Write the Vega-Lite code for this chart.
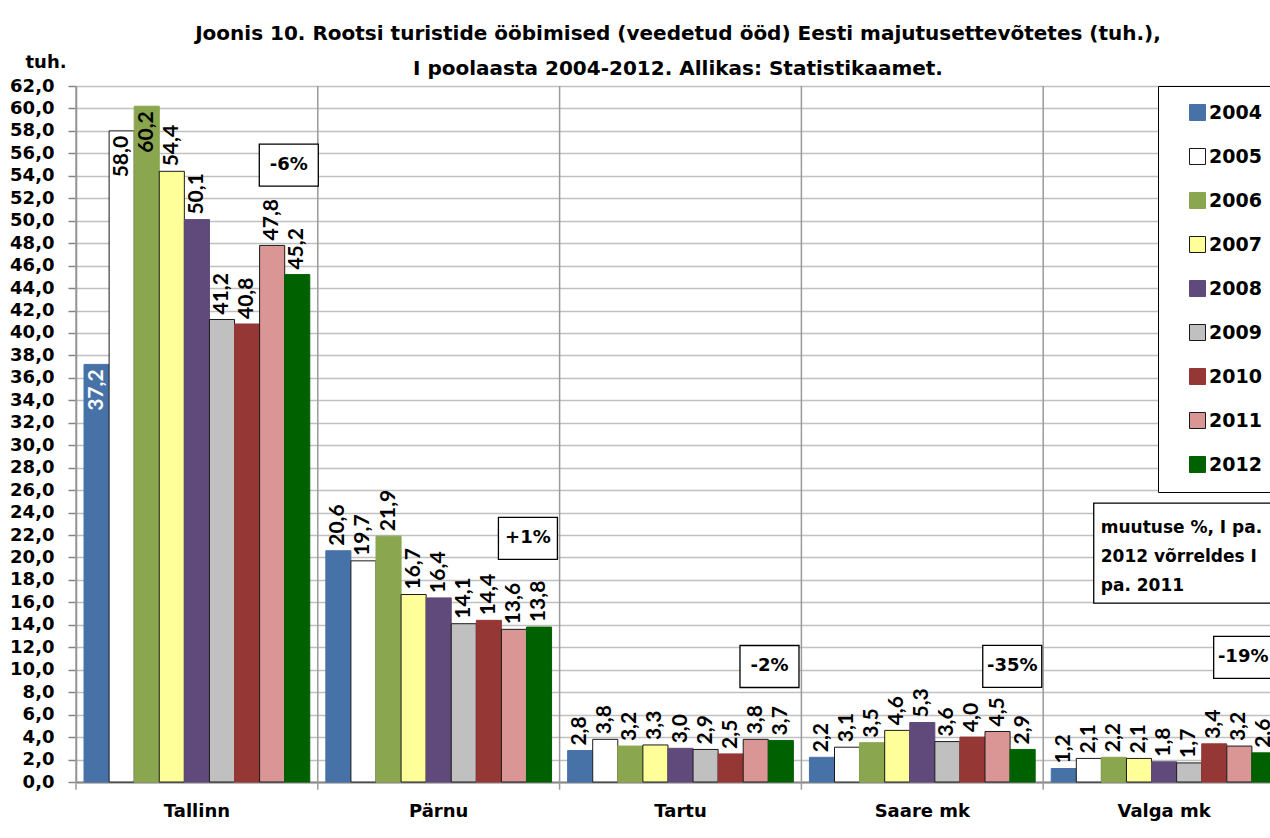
{
  "$schema": "https://vega.github.io/schema/vega-lite/v6.json",
  "width": 1194,
  "height": 696,
  "autosize": {"type": "none"},
  "padding": {"left": 76, "top": 86, "right": 0, "bottom": 56},
  "background": "white",
  "title": {
    "text": ["Joonis 10. Rootsi turistide ööbimised (veedetud ööd) Eesti majutusettevõtetes (tuh.),", "I poolaasta 2004-2012. Allikas: Statistikaamet."],
    "font": "DejaVu Sans", "fontSize": 20, "fontWeight": "bold", "color": "black",
    "anchor": "middle", "frame": "group", "baseline": "alphabetic", "lineHeight": 35, "offset": -42, "dx": 5
  },
  "config": {
    "locale": {"number": {"decimal": ",", "thousands": " ", "grouping": [3], "currency": ["", " €"]}},
    "view": {"stroke": null},
    "axis": {"labelOverlap": false},
    "axisX": {"labelFont": "DejaVu Sans", "labelFontSize": 18, "labelFontWeight": "bold", "labelColor": "black", "labelAngle": 0, "labelPadding": 20, "ticks": false, "grid": false, "domainColor": "#868686", "domainWidth": 2},
    "axisY": {"labelFont": "DejaVu Sans", "labelFontSize": 18, "labelFontWeight": "bold", "labelColor": "black", "labelPadding": 14, "labelOverlap": false, "tickSize": 8, "tickColor": "#868686", "tickWidth": 1.5, "domainColor": "#868686", "domainWidth": 1.5, "grid": true, "gridColor": "#c0c0c0", "gridWidth": 1.5, "titleFont": "DejaVu Sans", "titleFontSize": 18, "titleFontWeight": "bold", "titleColor": "black", "titleAngle": 0, "titleAlign": "left", "titleBaseline": "alphabetic", "titleX": -51, "titleY": -19}
  },
  "datasets": {
    "tur": [
      {"cat": "Tallinn", "year": "2004", "v": 37.2}, {"cat": "Tallinn", "year": "2005", "v": 58.0}, {"cat": "Tallinn", "year": "2006", "v": 60.2},
      {"cat": "Tallinn", "year": "2007", "v": 54.4}, {"cat": "Tallinn", "year": "2008", "v": 50.1}, {"cat": "Tallinn", "year": "2009", "v": 41.2},
      {"cat": "Tallinn", "year": "2010", "v": 40.8}, {"cat": "Tallinn", "year": "2011", "v": 47.8}, {"cat": "Tallinn", "year": "2012", "v": 45.2},
      {"cat": "Pärnu", "year": "2004", "v": 20.6}, {"cat": "Pärnu", "year": "2005", "v": 19.7}, {"cat": "Pärnu", "year": "2006", "v": 21.9},
      {"cat": "Pärnu", "year": "2007", "v": 16.7}, {"cat": "Pärnu", "year": "2008", "v": 16.4}, {"cat": "Pärnu", "year": "2009", "v": 14.1},
      {"cat": "Pärnu", "year": "2010", "v": 14.4}, {"cat": "Pärnu", "year": "2011", "v": 13.6}, {"cat": "Pärnu", "year": "2012", "v": 13.8},
      {"cat": "Tartu", "year": "2004", "v": 2.8}, {"cat": "Tartu", "year": "2005", "v": 3.8}, {"cat": "Tartu", "year": "2006", "v": 3.2},
      {"cat": "Tartu", "year": "2007", "v": 3.3}, {"cat": "Tartu", "year": "2008", "v": 3.0}, {"cat": "Tartu", "year": "2009", "v": 2.9},
      {"cat": "Tartu", "year": "2010", "v": 2.5}, {"cat": "Tartu", "year": "2011", "v": 3.8}, {"cat": "Tartu", "year": "2012", "v": 3.7},
      {"cat": "Saare mk", "year": "2004", "v": 2.2}, {"cat": "Saare mk", "year": "2005", "v": 3.1}, {"cat": "Saare mk", "year": "2006", "v": 3.5},
      {"cat": "Saare mk", "year": "2007", "v": 4.6}, {"cat": "Saare mk", "year": "2008", "v": 5.3}, {"cat": "Saare mk", "year": "2009", "v": 3.6},
      {"cat": "Saare mk", "year": "2010", "v": 4.0}, {"cat": "Saare mk", "year": "2011", "v": 4.5}, {"cat": "Saare mk", "year": "2012", "v": 2.9},
      {"cat": "Valga mk", "year": "2004", "v": 1.2}, {"cat": "Valga mk", "year": "2005", "v": 2.1}, {"cat": "Valga mk", "year": "2006", "v": 2.2},
      {"cat": "Valga mk", "year": "2007", "v": 2.1}, {"cat": "Valga mk", "year": "2008", "v": 1.8}, {"cat": "Valga mk", "year": "2009", "v": 1.7},
      {"cat": "Valga mk", "year": "2010", "v": 3.4}, {"cat": "Valga mk", "year": "2011", "v": 3.2}, {"cat": "Valga mk", "year": "2012", "v": 2.6}
    ],
    "cats": [{"cat": "Tallinn"}, {"cat": "Pärnu"}, {"cat": "Tartu"}, {"cat": "Saare mk"}, {"cat": "Valga mk"}]
  },
  "layer": [
    {
      "data": {"name": "tur"},
      "mark": {"type": "bar", "strokeWidth": 1},
      "encoding": {
        "x": {"field": "cat", "type": "nominal", "title": null, "scale": {"domain": ["Tallinn", "Pärnu", "Tartu", "Saare mk", "Valga mk"], "range": [0, 1209], "paddingInner": 0, "paddingOuter": 0}},
        "xOffset": {"field": "year", "type": "nominal", "scale": {"paddingInner": 0, "paddingOuter": 0.32}},
        "y": {"field": "v", "type": "quantitative", "title": "tuh.", "scale": {"domain": [0, 62], "nice": false}, "axis": {"values": [0, 2, 4, 6, 8, 10, 12, 14, 16, 18, 20, 22, 24, 26, 28, 30, 32, 34, 36, 38, 40, 42, 44, 46, 48, 50, 52, 54, 56, 58, 60, 62], "tickCount": 40, "format": ".1f", "labelOverlap": false, "labelBound": false}},
        "fill": {"field": "year", "type": "nominal",
          "scale": {"domain": ["2004", "2005", "2006", "2007", "2008", "2009", "2010", "2011", "2012"], "range": ["#4672A8", "#FFFFFF", "#8AA64E", "#FFFF99", "#604A7B", "#C0C0C0", "#953735", "#D99694", "#006100"]},
          "legend": {"title": null, "orient": "none", "legendX": 1082, "legendY": 0, "direction": "vertical", "strokeColor": "black", "fillColor": "white", "padding": 17, "symbolOffset": 13, "rowPadding": 23, "symbolType": "square", "symbolSize": 256, "symbolStrokeWidth": 1, "labelFont": "DejaVu Sans", "labelFontSize": 19, "labelFontWeight": "bold", "labelColor": "black", "labelOffset": 2}},
        "stroke": {"field": "year", "type": "nominal",
          "scale": {"domain": ["2004", "2005", "2006", "2007", "2008", "2009", "2010", "2011", "2012"], "range": ["#4672A8", "#1a1a1a", "#8AA64E", "#1a1a1a", "#604A7B", "#1a1a1a", "#953735", "#1a1a1a", "#006100"]},
          "legend": {"title": null, "orient": "none", "legendX": 1082, "legendY": 0, "direction": "vertical", "strokeColor": "black", "fillColor": "white", "padding": 17, "symbolOffset": 13, "rowPadding": 23, "symbolType": "square", "symbolSize": 256, "symbolStrokeWidth": 1, "labelFont": "DejaVu Sans", "labelFontSize": 19, "labelFontWeight": "bold", "labelColor": "black", "labelOffset": 2}}
      }
    },
    {
      "data": {"name": "cats"},
      "mark": {"type": "rule", "color": "#9a9a9a", "strokeWidth": 1.5},
      "encoding": {
        "x": {"field": "cat", "type": "nominal", "bandPosition": 0},
        "y": {"datum": -0.7},
        "y2": {"datum": 62}
      }
    },
    {
      "data": {"name": "tur"},
      "transform": [{"filter": "!(datum.cat == 'Tallinn' && (datum.year == '2004' || datum.year == '2005' || datum.year == '2006'))"}],
      "mark": {"type": "text", "angle": 270, "align": "left", "baseline": "middle", "dx": 5, "font": "Lato", "fontSize": 21, "fontWeight": "bold", "color": "black"},
      "encoding": {
        "x": {"field": "cat", "type": "nominal"},
        "xOffset": {"field": "year", "type": "nominal"},
        "y": {"field": "v", "type": "quantitative"},
        "text": {"field": "v", "type": "quantitative", "format": ".1f"}
      }
    },
    {
      "data": {"name": "tur"},
      "transform": [{"filter": "datum.cat == 'Tallinn' && (datum.year == '2004' || datum.year == '2005' || datum.year == '2006')"}],
      "mark": {"type": "text", "angle": 270, "align": "right", "baseline": "middle", "dx": -5, "font": "Lato", "fontSize": 21, "fontWeight": "bold"},
      "encoding": {
        "x": {"field": "cat", "type": "nominal"},
        "xOffset": {"field": "year", "type": "nominal"},
        "y": {"field": "v", "type": "quantitative"},
        "text": {"field": "v", "type": "quantitative", "format": ".1f"},
        "color": {"condition": {"test": "datum.year == '2004'", "value": "white"}, "value": "black"}
      }
    },
    {
      "data": {"values": [{"cat": "Tallinn", "pct": "-6%"}]},
      "encoding": {"x": {"field": "cat", "type": "nominal", "bandPosition": 0.88}, "y": {"datum": 54.96}},
      "layer": [
        {"mark": {"type": "point", "shape": "M-29.5,-21H29.5V21H-29.5Z", "size": 4, "filled": true, "fill": "white", "stroke": "black", "strokeWidth": 1.3, "opacity": 1}},
        {"mark": {"type": "text", "font": "DejaVu Sans", "fontSize": 18, "fontWeight": "bold", "color": "black"}, "encoding": {"text": {"field": "pct"}}}
      ]
    },
    {
      "data": {"values": [{"cat": "Pärnu", "pct": "+1%"}]},
      "encoding": {"x": {"field": "cat", "type": "nominal", "bandPosition": 0.869}, "y": {"datum": 21.7}},
      "layer": [
        {"mark": {"type": "point", "shape": "M-29.5,-21H29.5V21H-29.5Z", "size": 4, "filled": true, "fill": "white", "stroke": "black", "strokeWidth": 1.3, "opacity": 1}},
        {"mark": {"type": "text", "font": "DejaVu Sans", "fontSize": 18, "fontWeight": "bold", "color": "black"}, "encoding": {"text": {"field": "pct"}}}
      ]
    },
    {
      "data": {"values": [{"cat": "Tartu", "pct": "-2%"}]},
      "encoding": {"x": {"field": "cat", "type": "nominal", "bandPosition": 0.868}, "y": {"datum": 10.29}},
      "layer": [
        {"mark": {"type": "point", "shape": "M-29.5,-21H29.5V21H-29.5Z", "size": 4, "filled": true, "fill": "white", "stroke": "black", "strokeWidth": 1.3, "opacity": 1}},
        {"mark": {"type": "text", "font": "DejaVu Sans", "fontSize": 18, "fontWeight": "bold", "color": "black"}, "encoding": {"text": {"field": "pct"}}}
      ]
    },
    {
      "data": {"values": [{"cat": "Saare mk", "pct": "-35%"}]},
      "encoding": {"x": {"field": "cat", "type": "nominal", "bandPosition": 0.872}, "y": {"datum": 10.3}},
      "layer": [
        {"mark": {"type": "point", "shape": "M-29.5,-21H29.5V21H-29.5Z", "size": 4, "filled": true, "fill": "white", "stroke": "black", "strokeWidth": 1.3, "opacity": 1}},
        {"mark": {"type": "text", "font": "DejaVu Sans", "fontSize": 18, "fontWeight": "bold", "color": "black"}, "encoding": {"text": {"field": "pct"}}}
      ]
    },
    {
      "data": {"values": [{"cat": "Valga mk", "pct": "-19%"}]},
      "encoding": {"x": {"field": "cat", "type": "nominal", "bandPosition": 0.827}, "y": {"datum": 11.1}},
      "layer": [
        {"mark": {"type": "point", "shape": "M-29.5,-21H29.5V21H-29.5Z", "size": 4, "filled": true, "fill": "white", "stroke": "black", "strokeWidth": 1.3, "opacity": 1}},
        {"mark": {"type": "text", "font": "DejaVu Sans", "fontSize": 18, "fontWeight": "bold", "color": "black"}, "encoding": {"text": {"field": "pct"}}}
      ]
    },
    {
      "data": {"values": [{"cat": "Valga mk", "note": "muutuse %, I pa.|2012 võrreldes I|pa. 2011"}]},
      "encoding": {"x": {"field": "cat", "type": "nominal", "bandPosition": 0.209}, "y": {"datum": 24.85}},
      "layer": [
        {"mark": {"type": "point", "shape": "M0,0H220V100H0Z", "size": 4, "filled": true, "fill": "white", "stroke": "black", "strokeWidth": 1.3, "opacity": 1}},
        {"mark": {"type": "text", "align": "left", "baseline": "alphabetic", "dx": 7, "dy": 30, "lineBreak": "|", "lineHeight": 29, "font": "DejaVu Sans", "fontSize": 17, "fontWeight": "bold", "color": "black"}, "encoding": {"text": {"field": "note"}}}
      ]
    }
  ]
}
